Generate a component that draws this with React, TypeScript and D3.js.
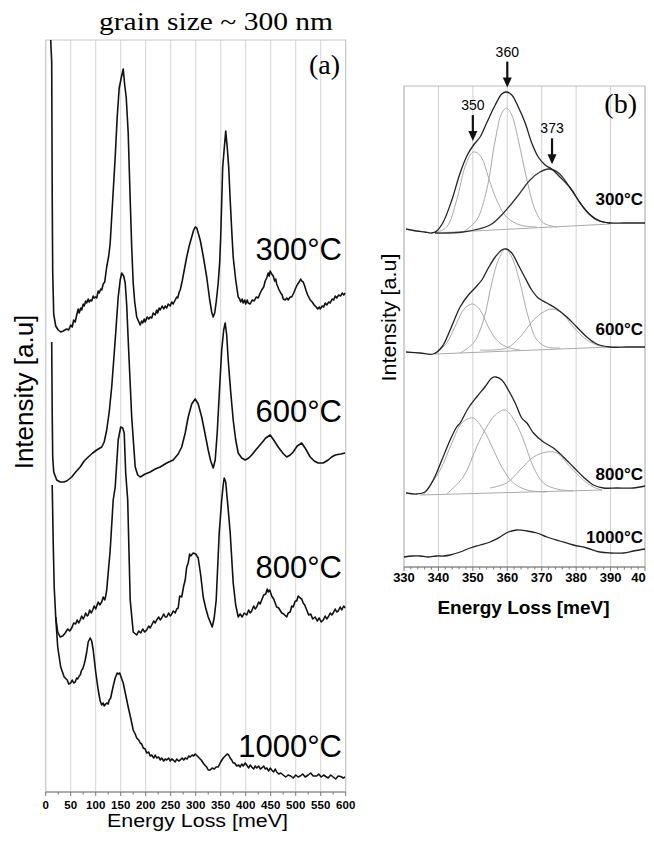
import React from "react";
import * as d3 from "d3";

type Pt = [number, number];

// ---------- panel (a): full spectra, energy [meV] vs intensity [a.u.] ----------
const tempLabels = ["300°C", "600°C", "800°C", "1000°C"];

const spec300: Pt[] = [
  [10, 75.2], [12, 73], [13, 60], [14, 52], [16, 47.8], [20, 46.6], [25, 46.2], [30, 46.0], [35, 46.1],
  [42, 46.3], [46, 46.2], [50, 46.7], [53, 46.5], [56, 47.2], [59, 47.0], [62, 47.7], [65, 48.3],
  [67, 47.9], [70, 48.4], [72, 48.2], [75, 48.8], [77, 48.6], [80, 49.1], [82, 48.9], [85, 49.3],
  [87, 49.0], [90, 49.2], [92, 49.1], [95, 49.6], [97, 49.4], [100, 49.5], [102, 49.4], [105, 50.1],
  [107, 49.9], [110, 50.3], [112, 50.2], [115, 50.8], [118, 51.0], [122, 52.5],
  [126, 53.6], [129, 54.9], [134, 59.2], [139, 63.5], [143, 67.5], [147, 70.4], [151, 71.4], [155, 72.3],
  [158, 70.7], [161, 69.5], [165, 65.9], [169, 59.2], [172, 54.5], [175, 50.9], [178, 49.0], [182, 47.5],
  [189, 46.7], [192, 47.1], [194, 46.9], [197, 47.3], [199, 47.0], [203, 47.5], [206, 47.3], [209, 47.5],
  [212, 47.4], [215, 47.9], [219, 47.7], [222, 48.2], [224, 47.9], [227, 48.4], [229, 48.2], [233, 48.6],
  [236, 48.3], [239, 48.6], [242, 48.4], [245, 48.8], [249, 48.6], [252, 49.0], [255, 48.8], [259, 49.2],
  [262, 49.5], [264, 49.4], [267, 50.0], [269, 50.2], [273, 51.1], [276, 51.9], [282, 53.5], [287, 54.6],
  [292, 55.5], [296, 56.2], [299, 56.5], [302, 56.4], [305, 55.9], [309, 55.2], [315, 53.6], [322, 51.5],
  [328, 49.2], [332, 48.0], [335, 47.5], [338, 47.9], [341, 49.0], [345, 50.9], [348, 53.0], [350, 55.5],
  [352, 59.0], [354, 62.5], [357, 64.3], [360, 66.1], [363, 64.5], [366, 62.5], [369, 59.2], [372, 56.2],
  [375, 53.5], [380, 51.2], [385, 49.5], [388, 49.3], [390, 49.0], [393, 49.3], [395, 48.9], [398, 49.2],
  [400, 48.8], [403, 49.2], [405, 48.9], [409, 48.8], [413, 49.2], [417, 49.1], [421, 49.5], [425, 49.4],
  [429, 49.9], [432, 50.2], [436, 50.5], [439, 51.1], [442, 51.4], [445, 51.9], [447, 51.6], [449, 52.1],
  [452, 51.8], [455, 51.6], [458, 51.1], [460, 51.3], [462, 50.8], [466, 50.3], [470, 49.9], [473, 49.7],
  [475, 49.3], [479, 49.2], [482, 49.4], [485, 49.2], [489, 49.5], [492, 49.5], [496, 49.9], [500, 50.4],
  [504, 50.8], [507, 51.0], [510, 51.3], [512, 51.1], [515, 51.0], [518, 50.6], [521, 50.1], [524, 49.7],
  [527, 49.4], [529, 49.2], [533, 49.0], [537, 48.7], [541, 48.5], [544, 48.3], [547, 48.5], [549, 48.3],
  [553, 48.6], [556, 48.5], [559, 48.9], [562, 48.7], [566, 49.0], [569, 48.9], [573, 49.3], [576, 49.2],
  [579, 49.6], [582, 49.4], [586, 49.7], [590, 49.6], [593, 49.9], [596, 49.7], [599, 49.9],
];

const spec600: Pt[] = [
  [12, 45.0], [13, 38.0], [14, 33.5], [16, 32.0], [22, 31.2], [29, 31.0], [36, 31.0], [42, 31.1],
  [52, 31.5], [60, 32.0], [69, 32.5], [77, 33.1], [85, 33.5], [94, 33.9], [102, 34.2], [112, 34.5],
  [117, 35.0], [122, 36.2], [127, 38.0], [132, 40.5], [139, 45.2], [145, 49.5], [149, 51.2], [152, 51.9],
  [156, 51.6], [159, 50.9], [162, 48.7], [165, 45.2], [172, 37.5], [179, 32.5], [184, 31.7], [189, 31.5],
  [199, 31.8], [209, 32.0], [219, 32.3], [229, 32.5], [242, 32.9], [255, 33.2], [265, 33.8], [272, 34.5],
  [279, 35.9], [285, 37.5], [292, 38.8], [299, 39.3], [305, 38.8], [312, 37.5], [318, 36.0], [325, 34.2],
  [330, 33.1], [335, 32.4], [339, 33.2], [343, 35.9], [347, 39.7], [352, 44.2], [356, 46.2], [359, 46.9],
  [362, 45.7], [365, 43.2], [370, 40.0], [375, 37.2], [380, 35.2], [385, 33.9], [392, 33.4], [399, 33.2],
  [406, 33.4], [412, 33.7], [420, 34.2], [432, 34.9], [440, 35.4], [449, 35.7], [456, 35.2], [465, 34.5],
  [474, 33.9], [482, 33.5], [489, 33.7], [495, 34.0], [503, 34.6], [512, 34.9], [520, 34.3], [529, 33.5],
  [537, 33.1], [545, 32.9], [555, 32.9], [565, 33.2], [572, 33.5], [579, 33.7], [590, 33.8], [599, 33.9],
];

const spec800: Pt[] = [
  [13, 30.7], [15, 25.0], [17, 20.5], [20, 17.5], [24, 16.0], [29, 15.5], [34, 15.6], [39, 15.9],
  [44, 16.3], [48, 16.1], [52, 16.4], [56, 16.9], [60, 16.8], [63, 17.2], [66, 16.9], [69, 17.2],
  [72, 17.6], [75, 17.3], [77, 17.5], [80, 17.9], [83, 17.6], [85, 17.7], [88, 18.2], [91, 17.9],
  [94, 18.2], [97, 18.6], [100, 18.3], [102, 18.6], [105, 19.0], [108, 18.7], [112, 19.0], [115, 19.5],
  [118, 19.2], [120, 19.6], [122, 20.2], [129, 24.2], [135, 29.2], [139, 30.5], [145, 35.2], [150, 36.5],
  [154, 36.4], [157, 35.9], [160, 31.9], [164, 29.2], [169, 19.2], [175, 16.0], [182, 15.7], [186, 16.1],
  [190, 15.9], [194, 16.3], [198, 16.0], [202, 16.2], [206, 16.6], [209, 16.4], [212, 16.7], [216, 17.1],
  [219, 16.9], [222, 17.2], [226, 17.5], [229, 17.2], [232, 17.4], [236, 17.8], [239, 17.5], [242, 17.5],
  [246, 17.9], [249, 17.6], [251, 17.7], [255, 18.1], [259, 17.9], [262, 18.3], [265, 18.4], [268, 19.6],
  [272, 19.5], [276, 20.6], [279, 21.2], [282, 22.5], [285, 22.9], [288, 23.8], [290, 23.6], [295, 23.9],
  [300, 23.8], [305, 23.4], [310, 21.7], [315, 19.5], [320, 18.4], [325, 17.5], [333, 16.5], [337, 17.4],
  [341, 19.2], [347, 25.9], [352, 29.2], [355, 30.7], [357, 31.4], [360, 31.0], [362, 29.9], [366, 27.7],
  [369, 25.9], [375, 20.9], [380, 18.7], [385, 17.5], [389, 17.8], [393, 17.5], [397, 17.9], [402, 17.7],
  [406, 18.2], [409, 17.9], [412, 18.1], [416, 18.6], [419, 18.3], [422, 18.5], [426, 19.0], [429, 18.8],
  [432, 19.2], [436, 19.7], [440, 19.8], [443, 20.3], [445, 20.0], [448, 20.2], [452, 19.6], [456, 19.3],
  [462, 18.5], [466, 18.4], [472, 17.9], [476, 17.8], [482, 17.5], [485, 17.9], [489, 18.0], [492, 18.6],
  [495, 18.5], [499, 19.1], [502, 19.1], [505, 19.6], [509, 19.4], [512, 19.3], [515, 18.9], [518, 18.7],
  [522, 18.2], [526, 17.7], [530, 17.8], [534, 17.3], [539, 17.5], [543, 17.1], [547, 17.4], [551, 17.0],
  [555, 17.2], [559, 17.6], [562, 17.3], [565, 17.5], [569, 17.9], [572, 17.7], [575, 17.9], [579, 18.3],
  [582, 18.0], [585, 18.1], [589, 18.5], [592, 18.2], [596, 18.6], [599, 18.4],
];

const spec1000: Pt[] = [
  [20, 17.5], [24, 14.5], [30, 12.5], [37, 11.5], [43, 11.2], [46, 10.8], [50, 10.9], [53, 11.2],
  [56, 10.9], [59, 11.0], [62, 11.4], [64, 11.3], [67, 11.6], [69, 11.7], [72, 12.2], [74, 12.3],
  [77, 12.8], [79, 13.2], [82, 14.0], [85, 15.0], [89, 15.4], [92, 15.1], [95, 14.2], [100, 12.0],
  [105, 10.2], [109, 9.1], [112, 8.7], [115, 8.9], [117, 8.6], [120, 8.8], [122, 8.9], [125, 8.8],
  [127, 9.2], [130, 9.4], [132, 9.9], [136, 10.8], [139, 11.4], [143, 11.9], [145, 11.8], [148, 11.9],
  [150, 11.6], [155, 10.9], [160, 9.7], [165, 8.5], [170, 7.4], [175, 6.2], [179, 5.8], [182, 5.4],
  [186, 5.2], [189, 4.9], [192, 4.8], [195, 4.4], [199, 4.3], [202, 3.9], [206, 4.0], [209, 3.6],
  [212, 3.7], [216, 3.4], [219, 3.7], [222, 3.4], [226, 3.5], [229, 3.2], [232, 3.4], [236, 3.1],
  [239, 3.3], [242, 3.2], [246, 3.4], [249, 3.1], [252, 3.3], [255, 3.2], [259, 3.0], [262, 3.3],
  [266, 3.1], [269, 3.2], [273, 3.4], [276, 3.2], [279, 3.4], [283, 3.3], [286, 3.6], [289, 3.5],
  [293, 3.7], [296, 3.6], [299, 3.8], [303, 3.6], [307, 3.4], [311, 3.2], [315, 2.9], [318, 2.7],
  [322, 2.5], [325, 2.2], [329, 2.2], [333, 2.4], [337, 2.3], [341, 2.5], [345, 2.5], [350, 3.0],
  [355, 3.4], [359, 3.6], [363, 3.8], [366, 3.7], [369, 3.4], [372, 3.2], [375, 2.9], [378, 2.9],
  [382, 2.6], [386, 2.7], [389, 2.5], [392, 2.8], [395, 2.6], [399, 2.9], [402, 2.7], [406, 2.4],
  [409, 2.7], [412, 2.5], [416, 2.3], [419, 2.6], [422, 2.4], [426, 2.6], [429, 2.3], [432, 2.4],
  [436, 2.6], [439, 2.3], [442, 2.4], [446, 2.1], [449, 2.4], [452, 2.2], [456, 2.0], [459, 2.3],
  [462, 2.0], [466, 1.8], [470, 1.9], [475, 1.7], [480, 1.5], [485, 1.7], [490, 1.6], [495, 1.4],
  [500, 1.7], [505, 1.5], [509, 1.6], [514, 1.8], [519, 1.5], [525, 1.7], [530, 1.9], [535, 1.6],
  [542, 1.6], [546, 1.8], [551, 1.5], [556, 1.7], [560, 1.55], [565, 1.4], [570, 1.7], [575, 1.5],
  [580, 1.3], [585, 1.6], [590, 1.55], [595, 1.4], [599, 1.5],
];

const spectraA = [spec300, spec600, spec800, spec1000];

// ---------- panel (b): 330-400 meV window with fitted components ----------
const meas300: Pt[] = [
  [330.6, 33.8], [333.7, 33.6], [336, 33.5], [338, 33.4], [339.5, 33.6], [341.4, 34.5], [343.9, 36.7],
  [346.3, 39.4], [348.4, 41.2], [350.2, 42.2], [352.1, 43.0], [354, 44.4], [356.5, 46.2], [358.4, 47.3],
  [359.7, 47.5], [361.3, 47.2], [363.2, 46.0], [365.2, 44.4], [367.1, 42.4], [369, 41.0], [371, 40.2],
  [372.9, 39.8], [375.3, 39.0], [378.3, 37.9], [381.2, 36.4], [384.1, 35.2], [387, 34.6], [389.9, 34.4],
  [393.8, 34.4], [396.7, 34.4], [400, 34.4],
];
const c350_300: Pt[] = [
  [339, 33.4], [342.4, 34.0], [345.3, 36.7], [347.7, 40.0], [349.7, 41.4], [350.8, 41.5], [352.6, 40.9],
  [354.5, 39.0], [356.9, 36.7], [359.8, 35.0], [363.7, 34.2], [368.6, 34.0],
];
const c360_300: Pt[] = [
  [347.2, 33.5], [351.1, 34.7], [354, 37.7], [356.5, 42.7], [358.4, 45.4], [359.8, 45.9], [361.3, 45.2],
  [363.2, 42.7], [365.7, 38.7], [368.1, 35.7], [370.5, 34.4], [374.4, 34.0],
];
const c373_300: Pt[] = [
  [339, 33.4], [347.2, 33.5], [355, 34.2], [358.9, 35.4], [362.8, 37.0], [366.6, 38.7], [369.5, 39.5],
  [372, 39.8], [374.9, 39.4], [378.3, 37.9], [382.2, 35.9], [386, 34.7], [389.9, 34.4],
];
const base300: Pt[] = [[339, 33.4], [389.9, 34.3]];

const meas600: Pt[] = [
  [330.6, 21.5], [334.7, 21.4], [338.5, 21.3], [341, 22.0], [343.4, 23.7], [346.3, 26.0], [348.7, 27.2],
  [350.6, 27.9], [352.6, 28.7], [354.5, 29.9], [356.5, 31.0], [358.4, 31.7], [359.7, 31.8], [361.3, 31.4],
  [363.2, 30.2], [365.2, 28.9], [367.1, 27.7], [369, 26.9], [371.5, 26.4], [374.4, 25.8], [377.3, 25.0],
  [380.2, 24.0], [383.1, 23.0], [386, 22.3], [389.9, 22.0], [394.7, 22.0], [400, 22.0],
];
const c350_600: Pt[] = [
  [339, 21.3], [342.4, 22.4], [345.3, 24.4], [347.7, 25.9], [350, 26.3], [352.1, 25.7], [354.5, 24.0],
  [356.9, 22.7], [359.8, 22.0], [363.7, 21.7],
];
const c360_600: Pt[] = [
  [346.3, 21.4], [350.2, 22.4], [353.1, 24.7], [355.5, 28.4], [357.4, 30.7], [359.4, 31.8], [361.3, 31.0],
  [363.7, 28.4], [366.1, 25.0], [368.6, 22.7], [371.5, 22.0], [375.3, 21.9],
];
const c373_600: Pt[] = [
  [352.1, 21.7], [359.8, 21.9], [363.7, 23.0], [367.6, 24.7], [370.5, 25.5], [372.9, 25.8], [375.8, 25.4],
  [379.2, 24.0], [383.1, 22.7], [387, 22.1], [389.9, 22.0],
];
const base600: Pt[] = [[339, 21.3], [389.9, 22.0]];

const meas800: Pt[] = [
  [330.6, 7.4], [333.7, 7.3], [336.1, 7.5], [338.5, 8.7], [341, 10.7], [343.4, 12.7], [345.3, 14.0],
  [346.3, 14.4], [348.7, 15.9], [351.1, 17.0], [353.5, 18.0], [355.5, 18.9], [356.7, 19.0], [358.4, 18.7],
  [360.3, 17.7], [362.3, 16.4], [364.2, 14.9], [365.7, 14.4], [367.6, 13.4], [370.5, 12.5], [373.4, 11.9],
  [376.3, 11.0], [379.2, 10.0], [382.1, 9.0], [385, 8.2], [387.9, 7.9], [391.8, 7.9], [396.6, 7.9], [400, 8.1],
];
const c350_800: Pt[] = [
  [335.6, 7.2], [340.5, 9.7], [343.9, 12.4], [346.8, 14.4], [350, 14.9], [353.1, 13.7], [356, 11.7],
  [358.9, 9.7], [361.8, 8.4], [365.7, 7.7], [371.5, 7.5],
];
const c360_800: Pt[] = [
  [342.4, 7.3], [347.2, 9.0], [351.1, 12.0], [354, 14.0], [356.5, 15.2], [359.4, 15.7], [362.3, 14.5],
  [364.7, 12.7], [367.6, 10.0], [370.5, 8.4], [374.4, 7.8], [379.2, 7.6],
];
const c373_800: Pt[] = [
  [355, 7.9], [359.8, 8.4], [363.7, 9.7], [367.6, 11.0], [371.5, 11.5], [374.4, 11.4], [378.3, 10.0],
  [382.1, 8.7], [385, 8.0], [387.5, 7.7],
];
const base800: Pt[] = [[334.7, 7.2], [387.5, 7.7]];

const meas1000: Pt[] = [
  [330, 1.0], [332.5, 1.1], [334.7, 1.1], [337, 1.0], [339.5, 1.1], [341.5, 1.1], [343.4, 1.2], [346.3, 1.5],
  [349.2, 1.9], [352.1, 2.2], [355, 2.5], [357.9, 3.0], [360.3, 3.5], [362.8, 3.7], [365.7, 3.6],
  [368.6, 3.4], [371.5, 3.0], [375.3, 2.6], [379.2, 2.2], [383.1, 1.9], [386.9, 1.5], [389.9, 1.4],
  [393.8, 1.4], [396.7, 1.6], [400, 1.8],
];

const measB = [meas300, meas600, meas800, meas1000];
const compsB = [
  [c350_300, c360_300, c373_300],
  [c350_600, c360_600, c373_600],
  [c350_800, c360_800, c373_800],
];
const basesB = [base300, base600, base800];
const peakMarks = [350, 360, 373];

// ---------- layout ----------
const A = { left: 45.7, right: 345.7, top: 40, bottom: 792 };
const B = { left: 404, right: 645, top: 86, bottom: 567 };
const labelYA = [260, 422, 578, 757];
const labelYB = [205, 335, 480, 543];
const sans = "'Liberation Sans', Arial, sans-serif";
const serif = "'Liberation Serif', 'Times New Roman', serif";

export default function App() {
  const xA = d3.scaleLinear().domain([0, 600]).range([A.left, A.right]);
  const yA = d3.scaleLinear().domain([0, 75.2]).range([A.bottom, A.top]);
  const xB = d3.scaleLinear().domain([330, 400]).range([B.left, B.right]);
  const yB = d3.scaleLinear().domain([0, 48.1]).range([B.bottom, B.top]);

  const lineA = d3.line<Pt>().x(d => xA(d[0])).y(d => yA(d[1]));
  const lineB = d3.line<Pt>().x(d => xB(d[0])).y(d => yB(d[1])).curve(d3.curveCatmullRom);

  const majorA = d3.range(0, 601, 50);
  const minorA = d3.range(25, 600, 50);
  const majorB = d3.range(330, 401, 10);
  const minorB = d3.range(330, 400, 2).filter(v => v % 10 !== 0);

  const interp = (pts: Pt[], e: number) => {
    const i = d3.bisector((d: Pt) => d[0]).left(pts, e);
    const a = pts[Math.max(0, i - 1)], b = pts[Math.min(pts.length - 1, i)];
    if (a[0] === b[0]) return a[1];
    return a[1] + (b[1] - a[1]) * (e - a[0]) / (b[0] - a[0]);
  };

  return (
    <svg width={654} height={844} style={{ display: "block", margin: "-8px", background: "#fff" }}>
      <defs>
        <clipPath id="clipA">
          <rect x={A.left} y={A.top} width={A.right - A.left} height={A.bottom - A.top} />
        </clipPath>
      </defs>

      {/* ----- panel (a) ----- */}
      <text x={216} y={30} textAnchor="middle" fontFamily={serif} fontSize={26} textLength={234}
        lengthAdjust="spacingAndGlyphs">grain size ~ 300 nm</text>
      {majorA.map(t => (
        <line key={"ga" + t} x1={xA(t)} x2={xA(t)} y1={A.top} y2={A.bottom} stroke="#d4d4d4" strokeWidth={1} />
      ))}
      <rect x={A.left} y={A.top} width={A.right - A.left} height={A.bottom - A.top} fill="none" stroke="#c8c8c8" />
      <line x1={A.left} x2={A.right} y1={A.bottom} y2={A.bottom} stroke="#777" strokeWidth={1.2} />
      {majorA.map(t => (
        <line key={"ta" + t} x1={xA(t)} x2={xA(t)} y1={A.bottom} y2={A.bottom + 4} stroke="#777" />
      ))}
      {minorA.map(t => (
        <line key={"ma" + t} x1={xA(t)} x2={xA(t)} y1={A.bottom} y2={A.bottom + 2.5} stroke="#777" />
      ))}
      {majorA.map(t => (
        <text key={"la" + t} x={xA(t)} y={808.5} textAnchor="middle" fontFamily={sans} fontSize={11.5}
          fontWeight="bold">{t}</text>
      ))}
      <text x={197.5} y={827} textAnchor="middle" fontFamily={sans} fontSize={18} textLength={181}
        lengthAdjust="spacingAndGlyphs">Energy Loss [meV]</text>
      <text transform="translate(33,392) rotate(-90)" textAnchor="middle" fontFamily={sans} fontSize={26}>
        Intensity [a.u]
      </text>
      <g clipPath="url(#clipA)">
        {spectraA.map((s, i) => (
          <path key={"sa" + i} d={lineA(s) || ""} fill="none" stroke="#111" strokeWidth={1.6}
            strokeLinejoin="round" />
        ))}
      </g>
      {tempLabels.map((t, i) => (
        <text key={"ta" + t} x={342} y={labelYA[i]} textAnchor="end" fontFamily={sans} fontSize={31}>{t}</text>
      ))}
      <text x={340} y={74} textAnchor="end" fontFamily={serif} fontSize={28}>(a)</text>

      {/* ----- panel (b) ----- */}
      {majorB.map(t => (
        <line key={"gb" + t} x1={xB(t)} x2={xB(t)} y1={B.top} y2={B.bottom} stroke="#d0d0d0" strokeWidth={1} />
      ))}
      <rect x={B.left} y={B.top} width={B.right - B.left} height={B.bottom - B.top} fill="none" stroke="#bbb" />
      <line x1={B.left} x2={B.right} y1={B.bottom} y2={B.bottom} stroke="#777" strokeWidth={1.2} />
      {majorB.map(t => (
        <line key={"tb" + t} x1={xB(t)} x2={xB(t)} y1={B.bottom} y2={B.bottom + 4} stroke="#777" />
      ))}
      {minorB.map(t => (
        <line key={"mb" + t} x1={xB(t)} x2={xB(t)} y1={B.bottom} y2={B.bottom + 2.5} stroke="#777" />
      ))}
      {majorB.map(t => (
        <text key={"lb" + t} x={t === 400 ? 653 : xB(t)} y={582} textAnchor={t === 400 ? "end" : "middle"}
          fontFamily={sans} fontSize={13} fontWeight="bold">{t}</text>
      ))}
      <text x={523.5} y={614} textAnchor="middle" fontFamily={sans} fontSize={19} fontWeight="bold">
        Energy Loss [meV]
      </text>
      <text transform="translate(396,317.5) rotate(-90)" textAnchor="middle" fontFamily={sans} fontSize={20}
        textLength={128} lengthAdjust="spacingAndGlyphs">Intensity [a.u]</text>

      {basesB.map((b, i) => (
        <path key={"bb" + i} d={lineB(b) || ""} fill="none" stroke="#aaa" strokeWidth={1} />
      ))}
      {compsB.map((set, i) =>
        set.map((c, j) => (
          <path key={"cb" + i + j} d={lineB(c) || ""} fill="none"
            stroke={i === 0 && j === 2 ? "#333" : "#aaa"} strokeWidth={i === 0 && j === 2 ? 1.3 : 1} />
        ))
      )}
      {measB.map((m, i) => (
        <path key={"mbx" + i} d={lineB(m) || ""} fill="none" stroke="#222" strokeWidth={1.3} />
      ))}
      {tempLabels.map((t, i) => (
        <text key={"tlb" + t} x={643} y={labelYB[i]} textAnchor="end" fontFamily={sans} fontSize={17}
          fontWeight="bold">{t}</text>
      ))}
      {peakMarks.map(e => {
        const x = xB(e);
        const tip = yB(interp(meas300, e)) - 5;
        return (
          <g key={"pk" + e}>
            <line x1={x} x2={x} y1={tip - 26} y2={tip - 8} stroke="#111" strokeWidth={2.2} />
            <path d={`M${x - 4.5},${tip - 10}L${x + 4.5},${tip - 10}L${x},${tip}Z`} fill="#111" />
            <text x={x} y={tip - 31} textAnchor="middle" fontFamily={sans} fontSize={14}>{e}</text>
          </g>
        );
      })}
      <text x={637} y={113} textAnchor="end" fontFamily={serif} fontSize={28}>(b)</text>
    </svg>
  );
}
